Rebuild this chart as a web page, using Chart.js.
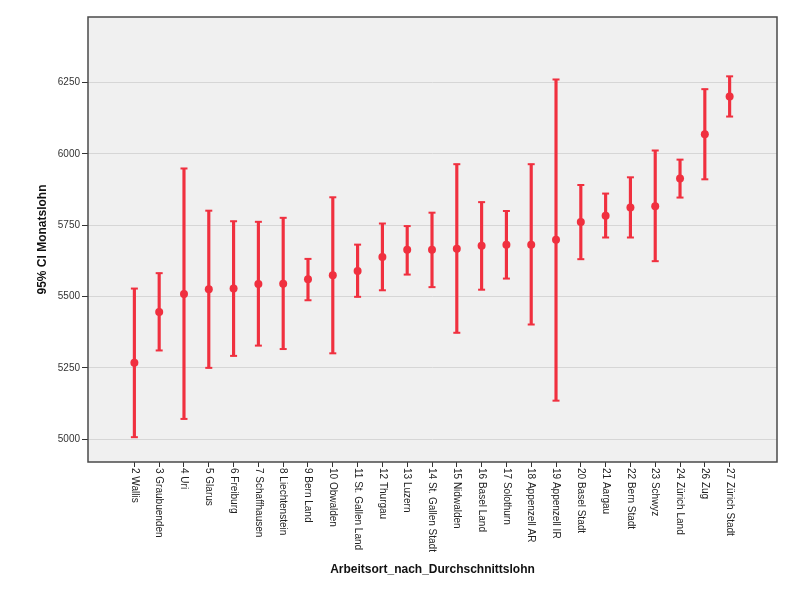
<!DOCTYPE html>
<html>
<head>
<meta charset="utf-8">
<script src="https://cdn.jsdelivr.net/npm/chart.js@4/dist/chart.umd.min.js"></script>
<style>
  body { margin: 0; background: #fff; }
  #wrap { width: 800px; height: 590px; }
</style>
</head>
<body>
<div id="wrap"><canvas id="chart" width="800" height="590"></canvas></div>
<script>
/* Kategorien (Arbeitsort) */
const orte = ['2 Wallis', '3 Graubuenden', '4 Uri', '5 Glarus', '6 Freiburg', '7 Schaffhausen',
  '8 Liechtenstein', '9 Bern Land', '10 Obwalden', '11 St. Gallen Land', '12 Thurgau', '13 Luzern',
  '14 St. Gallen Stadt', '15 Nidwalden', '16 Basel Land', '17 Solothurn', '18 Appenzell AR',
  '19 Appenzell IR', '20 Basel Stadt', '21 Aargau', '22 Bern Stadt', '23 Schwyz', '24 Zürich Land',
  '26 Zug', '27 Zürich Stadt'];

/* Mittelwert und 95% CI Grenzen */
const mittelwert = [5268, 5446, 5509, 5526, 5528, 5544, 5545, 5561, 5575, 5590, 5639, 5664,
  5664, 5668, 5678, 5682, 5682, 5699, 5761, 5783, 5812, 5817, 5914, 6069, 6201];
const obereGrenze = [5528, 5582, 5949, 5801, 5764, 5762, 5776, 5632, 5848, 5682, 5756, 5747,
  5794, 5964, 5831, 5800, 5964, 6261, 5891, 5861, 5918, 6012, 5980, 6227, 6272];
const untereGrenze = [5007, 5311, 5071, 5250, 5292, 5328, 5316, 5487, 5301, 5499, 5522, 5577,
  5533, 5373, 5524, 5563, 5402, 5135, 5631, 5707, 5707, 5624, 5847, 5911, 6131];

/* Achsenbeschriftung y */
const yTicks = [5000, 5250, 5500, 5750, 6000, 6250];

const rot = '#f0303f';

/* Plot-Hintergrund und Rahmen */
const rahmenPlugin = {
  id: 'rahmen',
  beforeDraw(chart) {
    const a = chart.chartArea, ctx = chart.ctx;
    ctx.save();
    ctx.fillStyle = '#f0f0f0';
    ctx.fillRect(a.left, a.top, a.right - a.left, a.bottom - a.top);
    ctx.restore();
  },
  afterDraw(chart) {
    const a = chart.chartArea, ctx = chart.ctx;
    ctx.save();
    ctx.strokeStyle = '#4a4a4a';
    ctx.lineWidth = 1.5;
    ctx.strokeRect(a.left, a.top, a.right - a.left, a.bottom - a.top);
    ctx.restore();
  }
};

/* x-Beschriftungen von oben nach unten gedreht */
const labelPlugin = {
  id: 'xlabels',
  afterDraw(chart) {
    const ctx = chart.ctx, xs = chart.scales.x;
    ctx.save();
    ctx.font = '10px "Liberation Sans", Arial, sans-serif';
    ctx.fillStyle = '#222';
    ctx.textAlign = 'left';
    ctx.textBaseline = 'middle';
    orte.forEach((name, i) => {
      ctx.save();
      ctx.translate(xs.getPixelForValue(i), chart.chartArea.bottom + 6);
      ctx.rotate(Math.PI / 2);
      ctx.fillText(name, 0, 0);
      ctx.restore();
    });
    ctx.restore();
  }
};

const idx = orte.map((_, i) => i);

new Chart(document.getElementById('chart'), {
  type: 'bar',
  data: {
    datasets: [
      {
        /* senkrechte Linie des Intervalls */
        type: 'bar',
        data: idx.map(i => ({ x: i, y: [untereGrenze[i], obereGrenze[i]] })),
        backgroundColor: rot,
        borderWidth: 0,
        barThickness: 2.5,
        order: 3
      },
      {
        type: 'scatter',
        data: idx.map(i => ({ x: i, y: obereGrenze[i] })),
        pointStyle: 'line',
        radius: 3.5,
        borderColor: rot,
        borderWidth: 2,
        order: 2
      },
      {
        type: 'scatter',
        data: idx.map(i => ({ x: i, y: untereGrenze[i] })),
        pointStyle: 'line',
        radius: 3.5,
        borderColor: rot,
        borderWidth: 2,
        order: 2
      },
      {
        type: 'scatter',
        data: idx.map(i => ({ x: i, y: mittelwert[i] })),
        pointStyle: 'circle',
        radius: 4,
        backgroundColor: rot,
        borderColor: rot,
        borderWidth: 0,
        order: 1
      }
    ]
  },
  options: {
    responsive: false,
    animation: false,
    layout: { padding: { top: 17, right: 23, bottom: 0, left: 0 } },
    plugins: { legend: { display: false }, tooltip: { enabled: false } },
    scales: {
      x: {
        type: 'linear',
        offset: false,
        min: -1.87,
        max: 25.91,
        afterBuildTicks: s => { s.ticks = idx.map(v => ({ value: v })); },
        afterFit: s => { s.height = 128; },
        ticks: { display: false },
        grid: { offset: false, drawOnChartArea: false, tickLength: 5, tickColor: '#333', lineWidth: 1 },
        border: { display: false },
        title: {
          display: true,
          text: 'Arbeitsort_nach_Durchschnittslohn',
          color: '#111',
          font: { family: '"Liberation Sans", Arial, sans-serif', size: 12, weight: 'bold' },
          padding: { top: 0, bottom: 13 }
        }
      },
      y: {
        min: 4920,
        max: 6480,
        afterBuildTicks: s => { s.ticks = yTicks.map(v => ({ value: v })); },
        afterFit: s => { s.width = 88; },
        ticks: {
          color: '#333',
          padding: 2,
          callback: v => String(v),
          font: { family: '"Liberation Sans", Arial, sans-serif', size: 10 }
        },
        grid: { color: '#d6d6d6', lineWidth: 1, tickLength: 6, tickColor: '#333' },
        border: { display: false },
        title: {
          display: true,
          text: '95% CI Monatslohn',
          color: '#111',
          font: { family: '"Liberation Sans", Arial, sans-serif', size: 12, weight: 'bold' },
          padding: { top: 35, bottom: 0 }
        }
      }
    }
  },
  plugins: [rahmenPlugin, labelPlugin]
});
</script>
</body>
</html>
